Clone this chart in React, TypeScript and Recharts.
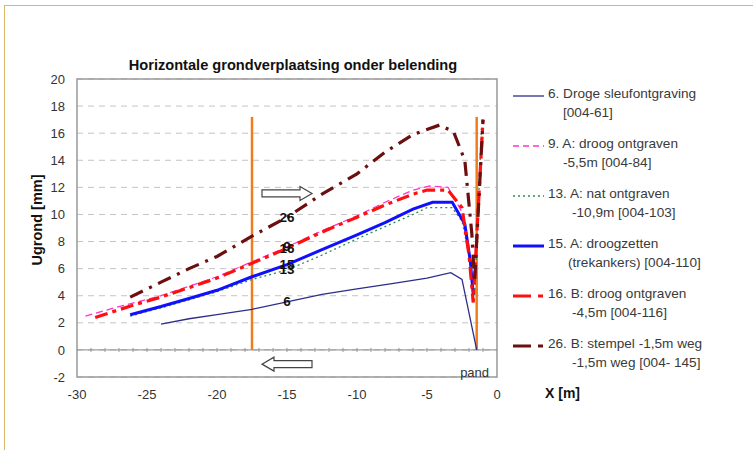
import { LineChart, Line, XAxis, YAxis, CartesianGrid, ReferenceLine, ReferenceArea, ReferenceDot, LabelList } from "recharts";

const xTicks = [-30, -25, -20, -15, -10, -5, 0];
const yTicks = [-2, 0, 2, 4, 6, 8, 10, 12, 14, 16, 18, 20];
const zeroTicks = Array.from({ length: 29 }, (_, i) => -29 + i);

// metingen per fase: x [m], u [mm]
const x6 = [-24, -22, -20, -17.5, -15, -12.5, -10, -7.5, -5, -3.3, -2.5, -1.45];
const u6 = [1.9, 2.3, 2.6, 3.0, 3.55, 4.1, 4.5, 4.9, 5.3, 5.7, 5.2, 0];

const x9 = [-29.4, -27, -24, -22, -20, -17.5, -15, -12.5, -10, -8, -6, -4.8, -3.5, -2.4, -2, -1.7];
const u9 = [2.5, 3.2, 4.0, 4.7, 5.4, 6.5, 7.6, 8.8, 9.9, 10.9, 11.8, 12.1, 12.0, 10.0, 7, 4];

const x13 = [-26.2, -24, -22, -20, -17.5, -15, -12.5, -10, -8, -6, -5, -3.2, -2.5, -2, -1.6, -1.1];
const u13 = [2.5, 3.1, 3.7, 4.3, 5.2, 5.9, 7.0, 8.2, 9.1, 10.0, 10.5, 10.5, 9.5, 7, 4, 16.5];

const x15 = [-26.2, -24, -22, -20, -17.5, -15, -12.5, -10, -8, -6, -4.6, -3.2, -2.3, -1.9, -1.7];
const u15 = [2.6, 3.2, 3.8, 4.4, 5.4, 6.3, 7.4, 8.5, 9.4, 10.4, 10.9, 10.9, 9.3, 6.5, 4.1];

const x16 = [-28.7, -26, -24, -22, -20, -17.5, -15, -12.5, -10, -8, -6, -5, -3.5, -2.5, -2, -1.7, -1.0];
const u16 = [2.4, 3.3, 3.9, 4.6, 5.3, 6.4, 7.5, 8.7, 9.8, 10.7, 11.5, 11.8, 11.8, 10.5, 7, 3.5, 17];

const x26 = [-26.2, -24, -22, -20, -17.5, -15, -12.5, -10, -8, -6, -4.1, -3.1, -2.3, -1.8, -1.6, -1.0];
const u26 = [3.9, 5.0, 6.0, 6.9, 8.4, 9.8, 11.5, 13.0, 14.6, 15.9, 16.6, 16.1, 14.0, 8.6, 5.0, 17.0];

const labelX = -15;
const wallTop = 17.2;
const font = "Arial, 'Liberation Sans', sans-serif";

const pts = (xs: number[], us: number[]) => xs.map((x, i) => ({ x, u: us[i] }));

const series = [
  { id: "6", data: pts(x6, u6), color: "#2e2e8a", width: 1.3, dash: undefined, legDash: undefined, l1: "6. Droge sleufontgraving", l2: "[004-61]", indent: 15 },
  { id: "9", data: pts(x9, u9), color: "#ff33cc", width: 1.3, dash: "7 4", legDash: "6 4", l1: "9. A: droog ontgraven", l2: "-5,5m  [004-84]", indent: 15 },
  { id: "13", data: pts(x13, u13), color: "#2e8b57", width: 1.3, dash: "2 3", legDash: "2 3", l1: "13. A: nat ontgraven", l2: "-10,9m  [004-103]", indent: 24 },
  { id: "15", data: pts(x15, u15), color: "#1010ff", width: 3, dash: undefined, legDash: undefined, l1: "15. A: droogzetten", l2: "(trekankers) [004-110]", indent: 20 },
  { id: "16", data: pts(x16, u16), color: "#ff1010", width: 3.2, dash: "13 5 4 5", legDash: "18 7 5 7", l1: "16. B: droog ontgraven", l2: "-4,5m  [004-116]", indent: 24 },
  { id: "26", data: pts(x26, u26), color: "#6b0f0f", width: 3.2, dash: "14 7 3 7", legDash: "18 7 5 7", l1: "26. B: stempel -1,5m weg", l2: "-1,5m weg  [004- 145]", indent: 24 },
];

const Arrow = ({ cx, cy, dir }: any) => {
  const p = [
    [-25, -3.5], [13, -3.5], [13, -7], [25, 0], [13, 7], [13, 3.5], [-25, 3.5],
  ].map(([a, b]) => `${cx + dir * a},${cy + b}`).join(" ");
  return <polygon points={p} fill="#fff" stroke="#444" strokeWidth={1.2} />;
};

const ChartLegend = () => (
  <div style={{ position: "absolute", left: 512, top: 86, width: 240, fontFamily: font, fontSize: 13.6, color: "#3a3a3a" }}>
    {series.map((s) => (
      <div key={s.id} style={{ height: 50, position: "relative" }}>
        <svg width={34} height={10} style={{ position: "absolute", left: 0, top: 5 }}>
          <line x1={1} y1={5} x2={32} y2={5} stroke={s.color} strokeWidth={s.width > 2 ? 3 : 1.3} strokeDasharray={s.legDash} />
        </svg>
        <div style={{ position: "absolute", left: 36, top: 0, whiteSpace: "nowrap" }}>{s.l1}</div>
        <div style={{ position: "absolute", left: 36 + s.indent, top: 19, whiteSpace: "nowrap" }}>{s.l2}</div>
      </div>
    ))}
  </div>
);

export default function App() {
  return (
    <div style={{ position: "absolute", left: 0, top: 0, width: 753, height: 450, background: "#fff", overflow: "hidden" }}>
      <div style={{ position: "absolute", left: 4, top: 5, width: 760, height: 460, borderTop: "1.5px solid #d8b66c", borderLeft: "1.5px solid #d8b66c" }} />
      <div style={{ position: "absolute", left: 0, top: 0 }}>
        <LineChart width={753} height={450} margin={{ top: 79, right: 256, bottom: 43, left: 37 }}>
          <CartesianGrid vertical={false} stroke="#c4c4c4" strokeDasharray="6 5" />
          <XAxis type="number" dataKey="x" domain={[-30, 0]} ticks={xTicks} allowDataOverflow height={30} axisLine={false} tickLine={false} tickMargin={7} tick={{ fontSize: 13, fill: "#333", fontFamily: font }} />
          <YAxis type="number" domain={[-2, 20]} ticks={yTicks} width={40} axisLine={false} tickLine={false} tickMargin={6} tick={{ fontSize: 13, fill: "#333", fontFamily: font }} />
          <ReferenceArea x1={-30} x2={0} y1={-2} y2={20} fill="none" stroke="#999" strokeWidth={1.5} />
          <ReferenceLine y={0} stroke="#888" strokeWidth={1} />
          {zeroTicks.map((t) => (
            <ReferenceLine key={t} segment={[{ x: t, y: -0.15 }, { x: t, y: 0.15 }]} stroke="#999" strokeWidth={1} />
          ))}
          <ReferenceLine segment={[{ x: -17.5, y: 0 }, { x: -17.5, y: wallTop }]} stroke="#f07c1c" strokeWidth={2.5} />
          <ReferenceLine segment={[{ x: -1.45, y: 0 }, { x: -1.45, y: wallTop }]} stroke="#f07c1c" strokeWidth={2.5} />
          {series.map((s) => (
            <Line key={s.id} data={s.data} dataKey="u" type="linear" stroke={s.color} strokeWidth={s.width} strokeDasharray={s.dash} dot={false} isAnimationActive={false}>
              <LabelList
                dataKey="u"
                content={(p: any) => {
                  if (s.data[p.index]?.x !== labelX) return null;
                  return (
                    <text x={p.x} y={p.y} textAnchor="middle" dominantBaseline="central" fontSize={13.5} fontWeight="bold" fill="#111" fontFamily={font}>
                      {s.id}
                    </text>
                  );
                }}
              />
            </Line>
          ))}
          <ReferenceDot x={-15} y={11.55} r={0} shape={(p: any) => <Arrow cx={p.cx} cy={p.cy} dir={1} />} />
          <ReferenceDot x={-15} y={-1.05} r={0} shape={(p: any) => <Arrow cx={p.cx} cy={p.cy} dir={-1} />} />
          <ReferenceDot x={-1.6} y={-1.65} r={0} shape={(p: any) => (
            <text x={p.cx} y={p.cy} textAnchor="middle" dominantBaseline="central" fontSize={13} fill="#333" fontFamily={font}>pand</text>
          )} />
        </LineChart>
      </div>
      <ChartLegend />
      <div style={{ position: "absolute", left: 77, width: 432, top: 57, textAlign: "center", fontFamily: font, fontWeight: "bold", fontSize: 14.6, color: "#111" }}>
        Horizontale grondverplaatsing onder belending
      </div>
      <div style={{ position: "absolute", left: 545, top: 385, fontFamily: font, fontWeight: "bold", fontSize: 14, color: "#111" }}>
        X [m]
      </div>
      <div style={{ position: "absolute", left: 37, top: 220, transform: "translate(-50%, -50%) rotate(-90deg)", whiteSpace: "nowrap", fontFamily: font, fontWeight: "bold", fontSize: 14.5, color: "#111" }}>
        Ugrond [mm]
      </div>
    </div>
  );
}
